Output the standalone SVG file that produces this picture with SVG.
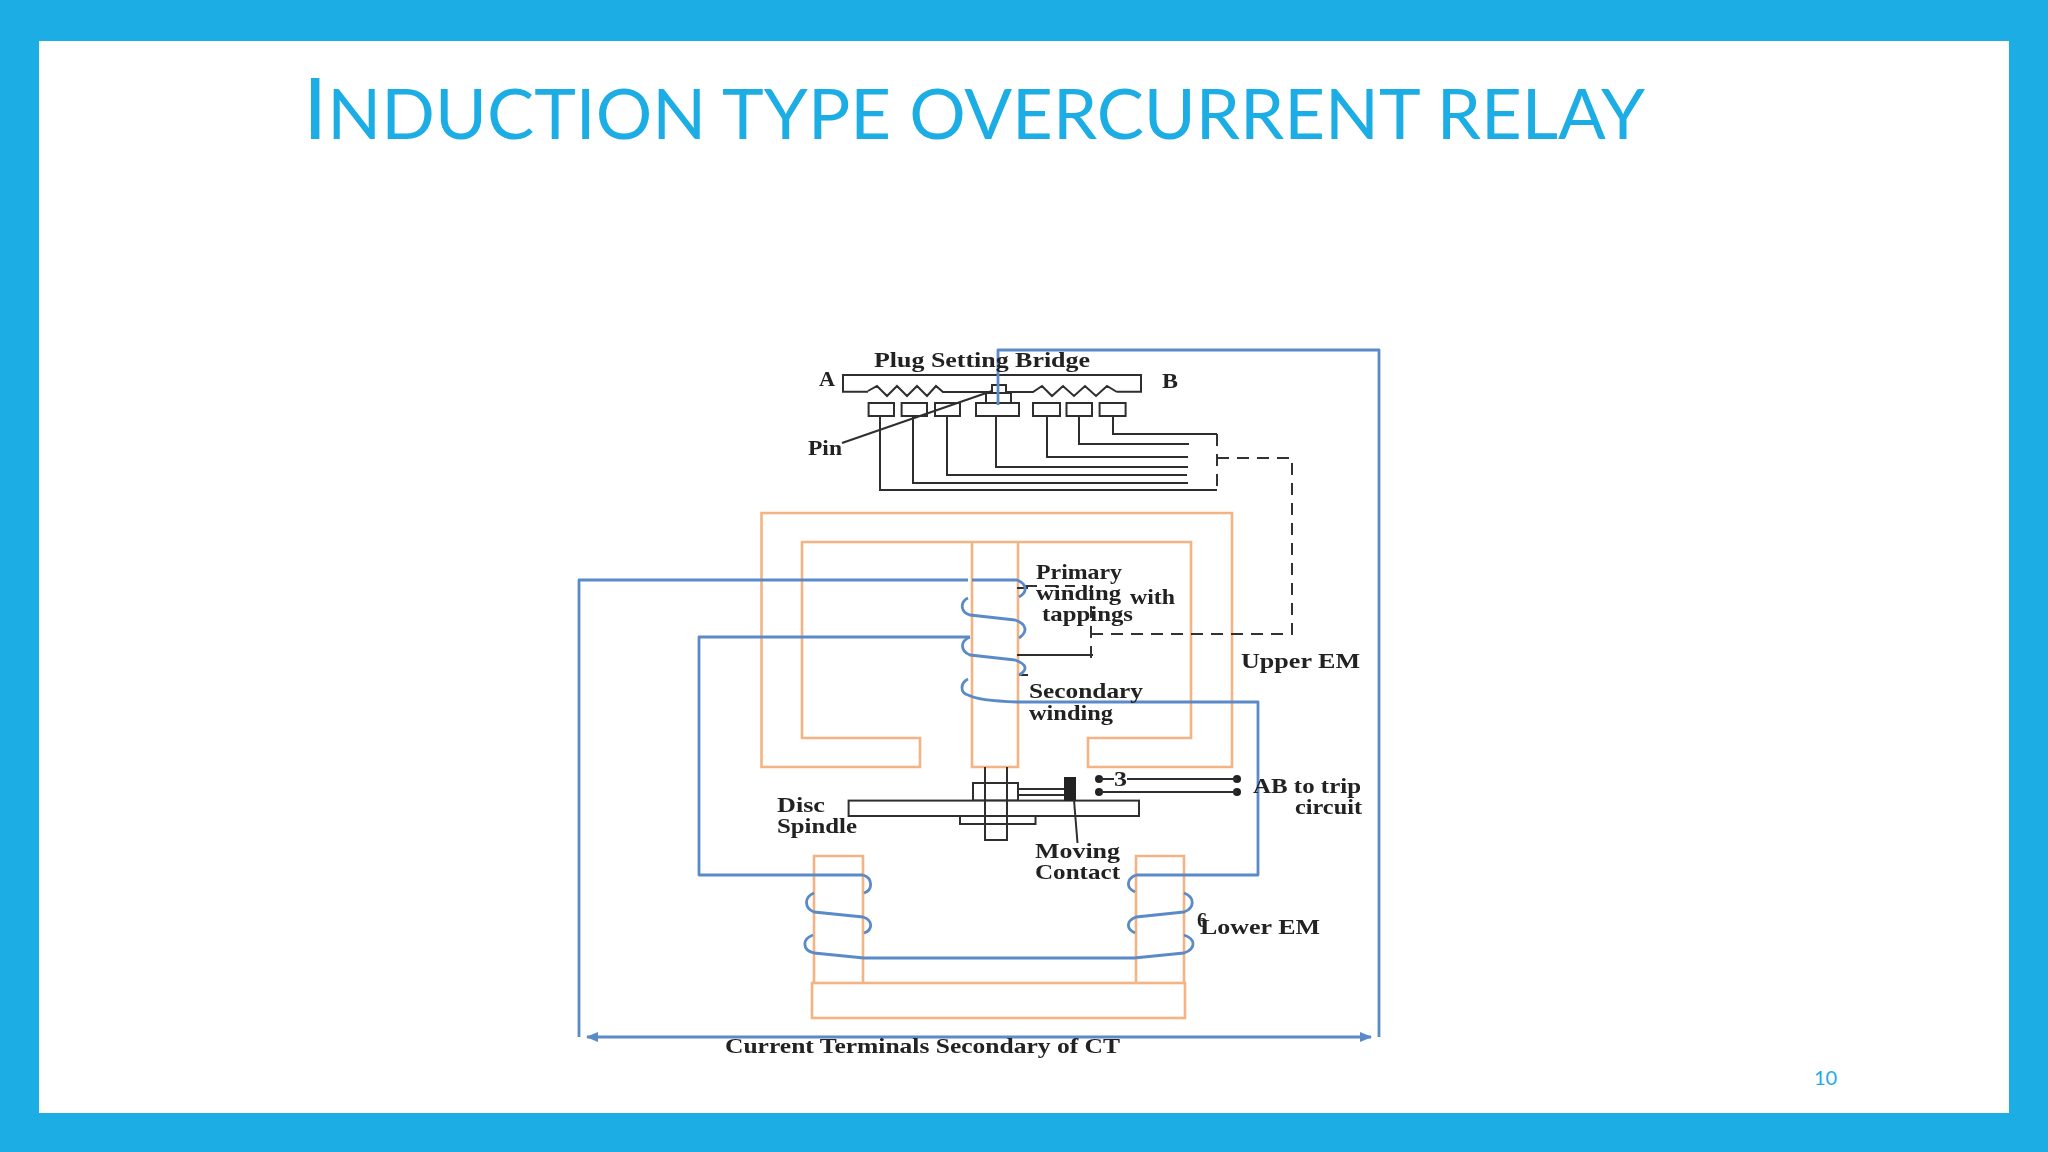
<svg xmlns="http://www.w3.org/2000/svg" width="2048" height="1152" viewBox="0 0 2048 1152">
<style>
.o{fill:none;stroke:#f3b383;stroke-width:2.6}
.b{fill:none;stroke:#5a8ac8;stroke-width:2.8;stroke-linejoin:round}
.k{fill:none;stroke:#2e2e2e;stroke-width:2}
.d{fill:none;stroke:#333;stroke-width:2;stroke-dasharray:12 8}
.kf{fill:#fff;stroke:#2e2e2e;stroke-width:2}
.t{font-family:"Liberation Serif","Times New Roman",serif;font-weight:700;font-size:21px;fill:#222}
.title{font-family:Lato,"Open Sans",sans-serif;fill:#1cade4}
</style>
<defs>
<filter id="soft" x="-5%" y="-5%" width="110%" height="110%"><feGaussianBlur stdDeviation="0.7"/></filter>
<marker id="ah" markerWidth="12" markerHeight="10" refX="11" refY="5" orient="auto-start-reverse" markerUnits="userSpaceOnUse"><path d="M0 0L12 5L0 10z" fill="#5a8ac8"/></marker>
</defs>
<rect id="frame" width="2048" height="1152" fill="#1cade4"/>
<rect id="page" x="39" y="41" width="1970" height="1072" fill="#fff"/>
<text id="title" class="title" x="303" y="139" font-size="69" textLength="1342" lengthAdjust="spacingAndGlyphs"><tspan font-size="85">I</tspan>NDUCTION TYPE OVERCURRENT RELAY</text>
<text id="page-number" class="title" x="1814" y="1085" font-size="20">10</text>
<g filter="url(#soft)">
<g id="upper-em">
<path class="o" d="M761.5 513H1232V767H1088V738H1191V542H802V738H920V767H761.5Z"/>
<path class="o" d="M972 542V767H1018V542"/>
</g>
<g id="lower-em">
<path class="o" d="M814 983V856H863V983"/>
<path class="o" d="M1136 983V856H1184V983"/>
<rect class="o" x="812" y="983" width="373" height="35"/>
</g>
<g id="plug-setting-bridge">
<path class="k" d="M868 391.7H843V375H1141V391.7H1117"/>
<path class="k" stroke-width="1.6" d="M868 391L877 386L887 396L897 386L907 396L917 386L927 396L936 386L943 392H992M1006 392H1033L1042 386L1052 396L1063 386L1074 396L1085 386L1096 396L1107 386L1117 392"/>
<rect class="kf" x="986" y="393" width="25" height="10"/>
<rect class="k" x="992" y="385" width="14" height="8"/>
<rect class="kf" x="868.600" y="403" width="25.400" height="13"/>
<rect class="kf" x="901.600" y="403" width="25.400" height="13"/>
<rect class="kf" x="935" y="403" width="25" height="13"/>
<rect class="kf" x="976" y="403" width="43" height="13"/>
<rect class="kf" x="1033" y="403" width="27" height="13"/>
<rect class="kf" x="1066.500" y="403" width="25.500" height="13"/>
<rect class="kf" x="1099.600" y="403" width="26" height="13"/>
</g>
<g id="disc-assembly">
<rect class="k" x="973" y="783" width="45" height="17.600"/>
<rect class="k" x="960" y="816" width="75.500" height="8"/>
<rect class="kf" x="848.600" y="800.600" width="290.400" height="15.400"/>
<path class="k" d="M985 767V840H1007V767"/>
<path class="k" d="M1018 789H1064M1018 795H1064"/>
<rect x="1064" y="777" width="12" height="24" fill="#222"/>
</g>
<g id="trip-contacts">
<circle cx="1099" cy="779" r="4" fill="#222"/>
<circle cx="1099" cy="792" r="4" fill="#222"/>
<circle cx="1237" cy="779" r="4" fill="#222"/>
<circle cx="1237" cy="792" r="4" fill="#222"/>
</g>
<g id="connectors">
<path class="k" d="M1099 779H1114M1127 779H1237M1099 792H1237"/>
<path class="k" d="M1074 800L1077.500 843" stroke-width="1.500"/>
<path class="k" d="M842 443L992 391" stroke-width="1.800"/>
<path class="k" d="M880 416V490H1217M913 416V483H1188M947 416V475H1187M996 416V467H1188M1047 416V457H1188M1079 416V444H1189M1113 416V434H1217"/>
<path class="d" d="M1217 434V490M1217 458H1292V634H1091M1091 586V658M1025 586H1075" stroke-width="1.800"/>
<path class="k" d="M1017 655H1093M1019 675H1028M1017 588H1028" stroke-width="1.800"/>
<path class="b" d="M998 405V350H1379V1037"/>
<path class="b" d="M579 1037V580H968"/>
<path class="b" stroke-width="1.800" d="M972 580H1017C1027 584 1028 592 1019 597"/>
<path class="b" stroke-width="2" d="M968 598C960 602 960 612 970 615L1015 620C1027 624 1028 632 1019 638"/>
<path class="b" d="M970 637H699V875H863"/>
<path class="b" stroke-width="2" d="M970 637C960 641 960 651 970 655L1015 660C1027 664 1028 670 1019 675"/>
<path class="b" stroke-width="2" d="M968 679C960 683 960 693 968 695C975 699 990 701 1017 702H1258V875H1136"/>
<path class="b" stroke-width="2" d="M863 875C873 878 873 890 864 893M814 893C804 897 804 908 814 912L863 917C873 920 873 930 864 933M813 935C802 939 802 950 814 953L864 958H1134L1184 953C1196 949 1196 939 1184 935M1135 933C1126 929 1126 921 1136 917L1184 912C1195 908 1195 897 1184 893M1135 892C1126 888 1126 879 1136 875"/>
<path class="b" marker-start="url(#ah)" marker-end="url(#ah)" d="M587 1037H1371"/>
</g>
<g id="labels">
<text class="t" x="874" y="367" textLength="216" lengthAdjust="spacingAndGlyphs">Plug Setting Bridge</text>
<text class="t" x="819" y="386" textLength="16" lengthAdjust="spacingAndGlyphs">A</text>
<text class="t" x="1162" y="388" textLength="16" lengthAdjust="spacingAndGlyphs">B</text>
<text class="t" x="808" y="455" textLength="34" lengthAdjust="spacingAndGlyphs">Pin</text>
<text class="t" x="1036" y="579" textLength="86" lengthAdjust="spacingAndGlyphs">Primary</text>
<text class="t" x="1036" y="600" textLength="85" lengthAdjust="spacingAndGlyphs">winding</text>
<text class="t" x="1130" y="604" textLength="45" lengthAdjust="spacingAndGlyphs">with</text>
<text class="t" x="1042" y="621" textLength="91" lengthAdjust="spacingAndGlyphs">tappings</text>
<text class="t" x="1241" y="668" textLength="119" lengthAdjust="spacingAndGlyphs">Upper EM</text>
<text class="t" x="1029" y="698" textLength="114" lengthAdjust="spacingAndGlyphs">Secondary</text>
<text class="t" x="1029" y="720" textLength="84" lengthAdjust="spacingAndGlyphs">winding</text>
<text class="t" x="1114" y="786" textLength="13" lengthAdjust="spacingAndGlyphs">3</text>
<text class="t" x="1253" y="793" textLength="108" lengthAdjust="spacingAndGlyphs">AB to trip</text>
<text class="t" x="1295" y="814" textLength="67" lengthAdjust="spacingAndGlyphs">circuit</text>
<text class="t" x="777" y="812" textLength="48" lengthAdjust="spacingAndGlyphs">Disc</text>
<text class="t" x="777" y="833" textLength="80" lengthAdjust="spacingAndGlyphs">Spindle</text>
<text class="t" x="1035" y="858" textLength="85" lengthAdjust="spacingAndGlyphs">Moving</text>
<text class="t" x="1035" y="879" textLength="85" lengthAdjust="spacingAndGlyphs">Contact</text>
<text class="t" x="1197" y="927" font-size="16" textLength="10" lengthAdjust="spacingAndGlyphs">6</text>
<text class="t" x="1200" y="934" textLength="120" lengthAdjust="spacingAndGlyphs">Lower EM</text>
<text class="t" x="725" y="1053" textLength="395" lengthAdjust="spacingAndGlyphs">Current Terminals Secondary of CT</text>
</g>
</g>
</svg>
